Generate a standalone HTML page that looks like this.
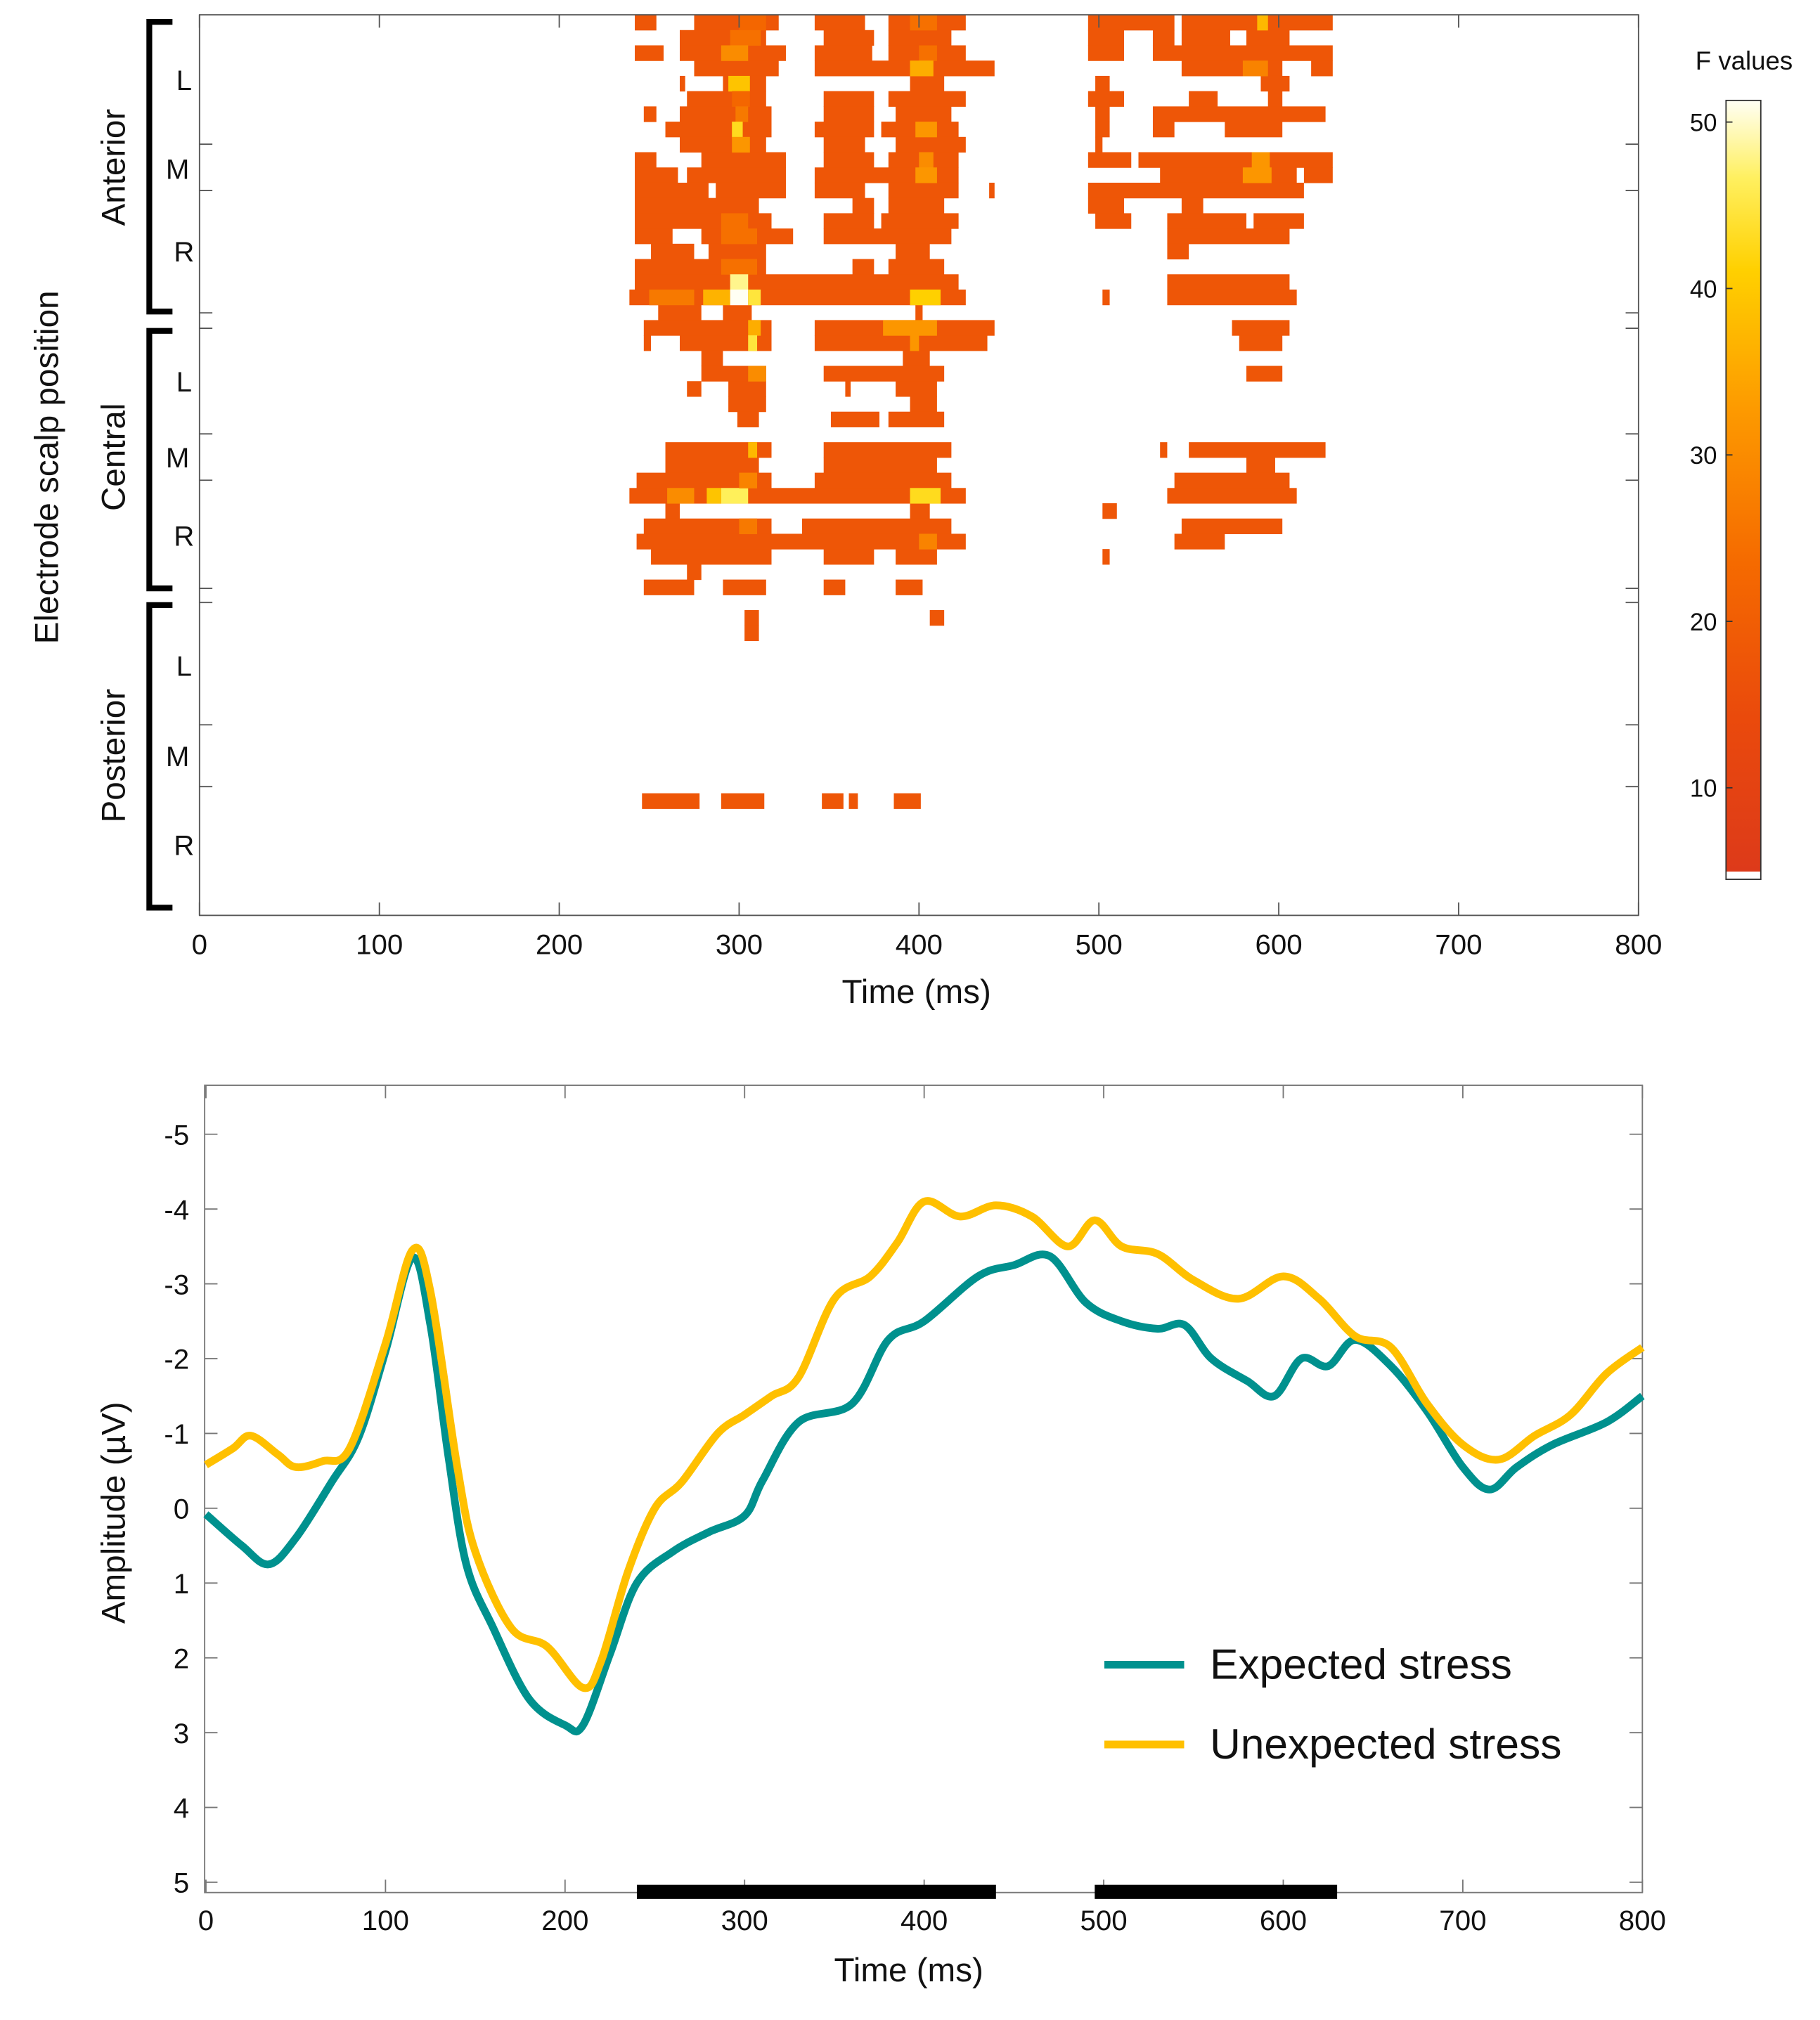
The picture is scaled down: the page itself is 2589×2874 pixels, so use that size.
<!DOCTYPE html>
<html><head><meta charset="utf-8"><style>
html,body{margin:0;padding:0;background:#fff;}
svg{display:block;font-family:"Liberation Sans","DejaVu Sans",sans-serif;}
</style></head><body>
<svg id="fig" width="2589" height="2874" viewBox="0 0 1414 1569" preserveAspectRatio="none" xmlns="http://www.w3.org/2000/svg">
<defs>
<linearGradient id="cbgrad" x1="0" y1="1" x2="0" y2="0">
<stop offset="0" stop-color="#dd3a1a"/><stop offset="0.2" stop-color="#ea4a0c"/><stop offset="0.4" stop-color="#f56a00"/><stop offset="0.6" stop-color="#fd9a00"/><stop offset="0.78" stop-color="#ffd000"/><stop offset="0.9" stop-color="#fff060"/><stop offset="1" stop-color="#fffff4"/>
</linearGradient>
</defs>
<g id="topPanel"></g>
<g id="bottomPanel"></g>
</svg>
<script>
// ---------- heatmap data ----------
const heatXTicks = [0,100,200,300,400,500,600,700,800];
const cbTicks = [10,20,30,40,50];
// segments: [row, startMs, endMs]
const heatSegments = [
[0,242,254],[0,275,322],[0,342,370],[0,383,426],[0,494,542],[0,546,630],
[1,267,315],[1,347,375],[1,383,418],[1,494,514],[1,530,542],[1,546,573],[1,582,606],
[2,242,258],[2,267,326],[2,342,374],[2,383,426],[2,494,514],[2,530,630],
[3,275,322],[3,342,442],[3,546,602],[3,618,630],
[4,267,270],[4,291,315],[4,395,414],[4,498,506],[4,590,606],
[5,271,315],[5,347,375],[5,383,426],[5,494,514],[5,550,566],[5,594,602],
[6,247,254],[6,267,318],[6,347,375],[6,387,418],[6,498,506],[6,530,626],
[7,259,318],[7,342,375],[7,379,422],[7,498,506],[7,530,542],[7,570,602],
[8,267,315],[8,347,370],[8,387,426],[8,498,502],
[9,242,254],[9,279,326],[9,347,375],[9,383,422],[9,494,518],[9,522,630],
[10,242,266],[10,271,326],[10,342,422],[10,534,610],[10,614,630],
[11,242,283],[11,287,326],[11,342,370],[11,383,422],[11,439,442],[11,494,614],
[12,242,311],[12,363,375],[12,383,414],[12,494,514],[12,546,558],
[13,242,318],[13,347,375],[13,379,422],[13,498,518],[13,538,582],[13,586,614],
[14,242,263],[14,279,330],[14,347,418],[14,538,606],
[15,251,275],[15,283,315],[15,387,406],[15,538,550],
[16,242,315],[16,363,375],[16,383,414],
[17,242,422],[17,538,606],
[18,239,426],[18,502,506],[18,538,610],
[19,255,279],[19,291,307],[19,398,402],
[20,247,318],[20,342,442],[20,574,606],
[21,247,251],[21,267,318],[21,342,438],[21,578,602],
[22,279,291],[22,391,406],
[23,279,315],[23,347,414],[23,582,602],
[24,271,279],[24,294,315],[24,359,362],[24,387,410],
[25,294,315],[25,395,410],
[26,299,311],[26,351,378],[26,383,414],
[28,259,318],[28,347,418],[28,534,538],[28,550,626],
[29,259,311],[29,347,410],[29,582,598],
[30,243,318],[30,342,418],[30,542,606],
[31,239,426],[31,538,610],
[32,259,267],[32,395,406],[32,502,510],
[33,247,318],[33,335,418],[33,546,602],
[34,243,426],[34,542,570],
[35,251,318],[35,347,375],[35,387,410],[35,502,506],
[36,271,279],
[37,247,275],[37,291,315],[37,347,359],[37,387,402],
[39,303,311],[39,406,414],[40,303,311],
[51,246,278],[51,290,314],[51,346,358],[51,361,366],[51,386,401]
];
const heatBaseValue = 16;
// brighter patches: [row, startMs, endMs, F]
const heatPeaks = [
[0,300,315,20],[0,395,410,22],[0,588,594,36],[1,295,312,22],[2,290,305,28],[2,400,410,22],
[3,395,408,34],[3,580,594,26],[4,294,306,38],[5,296,306,20],[6,298,305,24],[7,296,302,42],[7,398,410,30],
[8,296,306,30],[9,400,408,28],[9,585,595,30],[10,398,410,30],[10,580,596,30],[13,290,305,22],[14,290,310,22],
[16,290,310,22],[17,295,305,48],[18,280,295,35],[18,295,305,52],[18,305,312,44],[18,395,412,40],[18,250,275,24],
[20,305,312,34],[20,380,410,30],[21,305,310,44],[21,395,400,30],[23,305,315,28],[28,305,310,36],
[31,290,305,46],[31,282,290,38],[31,395,412,42],[31,260,275,28],[30,300,310,26],[33,300,310,24],[34,400,410,26]
];
// ---------- ERP data ----------
const erpXTicks = [0,100,200,300,400,500,600,700,800];
const erpYTicks = [-5,-4,-3,-2,-1,0,1,2,3,4,5];
const expTimes = [0,20,35,50,70,85,100,115,125,135,145,160,180,200,210,225,240,260,280,300,310,330,360,380,400,430,450,470,490,510,530,545,560,580,595,610,625,640,660,680,700,715,730,750,780,800];
const expValues = [0.08,0.5,0.75,0.4,-0.35,-0.95,-2.1,-3.35,-2.45,-0.7,0.75,1.6,2.55,2.9,2.9,1.95,1.0,0.58,0.32,0.1,-0.37,-1.15,-1.4,-2.25,-2.5,-3.1,-3.25,-3.37,-2.75,-2.5,-2.4,-2.45,-2.0,-1.7,-1.5,-2.0,-1.9,-2.25,-1.9,-1.3,-0.55,-0.25,-0.55,-0.85,-1.15,-1.5];
const unexpTimes = [0,15,25,40,50,65,80,100,115,125,140,150,170,190,210,220,235,250,265,285,300,315,330,350,370,385,400,420,440,460,480,495,510,530,550,575,600,620,640,660,680,700,720,740,760,780,800];
const unexpValues = [-0.58,-0.8,-0.97,-0.72,-0.55,-0.63,-0.8,-2.2,-3.45,-2.9,-0.55,0.58,1.6,1.85,2.4,2.05,0.85,0,-0.35,-1.0,-1.25,-1.5,-1.75,-2.8,-3.1,-3.55,-4.1,-3.9,-4.05,-3.9,-3.5,-3.85,-3.5,-3.4,-3.05,-2.8,-3.1,-2.8,-2.3,-2.15,-1.4,-0.85,-0.65,-0.97,-1.25,-1.8,-2.15];
const sigWindows = [[240,440],[495,630]];

const NS = "http://www.w3.org/2000/svg";
function mk(parent, tag, attrs, text){
  const e = document.createElementNS(NS, tag);
  for (const k in attrs) e.setAttribute(k, attrs[k]);
  if (text !== undefined) e.textContent = text;
  parent.appendChild(e); return e;
}
// ---------- top panel ----------
const topG = document.getElementById('topPanel');
const H = {x0:155, x1:1273, y0:11.5, y1:711, rows:59};
const hx = ms => H.x0 + (ms/800)*(H.x1-H.x0);
const rowH = (H.y1-H.y0)/H.rows;
const ry = r => H.y0 + r*rowH;
const stops = [[4.5,[221,58,26]],[12,[232,70,14]],[20,[244,102,0]],[30,[252,150,0]],[40,[255,208,0]],[46,[255,240,90]],[52,[255,255,244]]];
function cmap(v){
  if (v<=stops[0][0]) return 'rgb('+stops[0][1]+')';
  for (let i=1;i<stops.length;i++){
    if (v<=stops[i][0]){ const a=stops[i-1], b=stops[i]; const t=(v-a[0])/(b[0]-a[0]);
      const c=a[1].map((x,j)=>Math.round(x+(b[1][j]-x)*t)); return 'rgb('+c.join(',')+')'; }
  }
  return 'rgb(255,255,244)';
}
const cells = mk(topG,'g',{});


heatSegments.forEach(s=>{
  const r = mk(cells,'rect',{x:hx(s[1]),y:ry(s[0]),width:hx(s[2])-hx(s[1]),height:rowH+0.3,fill:cmap(heatBaseValue)});
  
  
});
heatPeaks.forEach(s=>{
  const r = mk(cells,'rect',{x:hx(s[1]),y:ry(s[0]),width:hx(s[2])-hx(s[1]),height:rowH+0.3,fill:cmap(s[3])});
  
  
});
const topFrame = mk(topG,'rect',{x:H.x0,y:H.y0,width:H.x1-H.x0,height:H.y1-H.y0,fill:'none',stroke:'#555','stroke-width':1});


[112,148,243,255,337,373,457,468,563,611].forEach(y=>{
  mk(topG,'line',{x1:H.x0,x2:H.x0+10,y1:y,y2:y,stroke:'#555','stroke-width':1});
  mk(topG,'line',{x1:H.x1,x2:H.x1-10,y1:y,y2:y,stroke:'#555','stroke-width':1});
});
heatXTicks.forEach(t=>{
  mk(topG,'line',{x1:hx(t),x2:hx(t),y1:H.y1,y2:H.y1-10,stroke:'#555','stroke-width':1});
  mk(topG,'line',{x1:hx(t),x2:hx(t),y1:H.y0,y2:H.y0+10,stroke:'#555','stroke-width':1});
  const tl = mk(topG,'text',{x:hx(t),y:741,'font-size':22,'text-anchor':'middle',fill:'#111'},String(t));
  
  
});
const hxt = mk(topG,'text',{x:712,y:779,'font-size':26,'text-anchor':'middle',fill:'#111'},'Time (ms)');


// brackets
[[17,242,130,'Anterior',[62,131,195]],[257,457,355,'Central',[296,355,416]],[470,705,587,'Posterior',[517,587,656]]].forEach(g=>{
  const b = mk(topG,'path',{d:`M134 ${g[0]} H116 V${g[1]} H134`,fill:'none',stroke:'#000','stroke-width':4.5});
  
  
  const gl = mk(topG,'text',{x:0,y:0,'font-size':26,'text-anchor':'middle',fill:'#111',transform:`translate(97 ${g[2]}) rotate(-90)`},g[3]);
  
  
  ['L','M','R'].forEach((s,i)=>{
    const sl = mk(topG,'text',{x:s==='M'?138:143,y:g[4][i]+8,'font-size':22,'text-anchor':'middle',fill:'#111'},s);
    
    
  });
});
const hyt = mk(topG,'text',{x:0,y:0,'font-size':26,'text-anchor':'middle',fill:'#111',transform:'translate(45 363) rotate(-90)'},'Electrode scalp position');


// colorbar
const CB = {x:1341,w:27,y0:78,y1:683,vmin:4.5,vmax:51.3};
const cy = v => CB.y1 - (v-CB.vmin)/(CB.vmax-CB.vmin)*(CB.y1-CB.y0);
const cbr = mk(topG,'rect',{x:CB.x,y:CB.y0,width:CB.w,height:CB.y1-CB.y0-6,fill:'url(#cbgrad)'});


mk(topG,'rect',{x:CB.x,y:CB.y0,width:CB.w,height:CB.y1-CB.y0,fill:'none',stroke:'#333','stroke-width':1});
cbTicks.forEach(v=>{
  mk(topG,'line',{x1:CB.x,x2:CB.x+5,y1:cy(v),y2:cy(v),stroke:'#333','stroke-width':1});
  const cl = mk(topG,'text',{x:1334,y:cy(v)+7,'font-size':19,'text-anchor':'end',fill:'#111'},String(v));
  
  
});
const cbt = mk(topG,'text',{x:1355,y:54,'font-size':20,'text-anchor':'middle',fill:'#111'},'F values');



// ---------- bottom panel ----------
const botG = document.getElementById('bottomPanel');
const E = {x0:159, x1:1276, y0:843, y1:1470};
const ex = ms => 160 + (ms/800)*(1276-160);
const ey = v => 1171.5 + v*58.1;
const bframe = mk(botG,'rect',{x:E.x0,y:E.y0,width:E.x1-E.x0,height:E.y1-E.y0,fill:'none',stroke:'#777','stroke-width':1});


erpYTicks.forEach(v=>{
  mk(botG,'line',{x1:E.x0,x2:E.x0+10,y1:ey(v),y2:ey(v),stroke:'#777','stroke-width':1});
  mk(botG,'line',{x1:E.x1,x2:E.x1-10,y1:ey(v),y2:ey(v),stroke:'#777','stroke-width':1});
  const yl = mk(botG,'text',{x:147,y:ey(v)+8,'font-size':22,'text-anchor':'end',fill:'#111'},String(v));
  
  
});
erpXTicks.forEach(t=>{
  mk(botG,'line',{x1:ex(t),x2:ex(t),y1:E.y1,y2:E.y1-10,stroke:'#777','stroke-width':1});
  mk(botG,'line',{x1:ex(t),x2:ex(t),y1:E.y0,y2:E.y0+10,stroke:'#777','stroke-width':1});
  const xl = mk(botG,'text',{x:ex(t),y:1499,'font-size':22,'text-anchor':'middle',fill:'#111'},String(t));
  
  
});
sigWindows.forEach(w=>{
  const r = mk(botG,'rect',{x:ex(w[0]),y:1464,width:ex(w[1])-ex(w[0]),height:11,fill:'#000'});
  
  
});
function smoothPath(ts, vs){
  const p = ts.map((t,i)=>[ex(t),ey(vs[i])]);
  let d = `M${p[0][0]} ${p[0][1]}`;
  for (let i=0;i<p.length-1;i++){
    const p0=p[Math.max(0,i-1)], p1=p[i], p2=p[i+1], p3=p[Math.min(p.length-1,i+2)];
    const c1=[p1[0]+(p2[0]-p0[0])/6, p1[1]+(p2[1]-p0[1])/6];
    const c2=[p2[0]-(p3[0]-p1[0])/6, p2[1]-(p3[1]-p1[1])/6];
    d += ` C${c1[0]} ${c1[1]} ${c2[0]} ${c2[1]} ${p2[0]} ${p2[1]}`;
  }
  return d;
}
const expLine = mk(botG,'path',{d:smoothPath(expTimes,expValues),fill:'none',stroke:'#00918e','stroke-width':6,'stroke-linejoin':'round'});


const unLine = mk(botG,'path',{d:smoothPath(unexpTimes,unexpValues),fill:'none',stroke:'#ffc000','stroke-width':6,'stroke-linejoin':'round'});


const bxt = mk(botG,'text',{x:706,y:1539,'font-size':26,'text-anchor':'middle',fill:'#111'},'Time (ms)');


const byt = mk(botG,'text',{x:0,y:0,'font-size':26,'text-anchor':'middle',fill:'#111',transform:'translate(97 1175) rotate(-90)'},'Amplitude (µV)');


// legend
const leg = mk(botG,'g',{});


[['#00918e','Expected stress',1293],['#ffc000','Unexpected stress',1355]].forEach(l=>{
  const e = mk(leg,'g',{});
  
  
  mk(e,'line',{x1:858,x2:920,y1:l[2],y2:l[2],stroke:l[0],'stroke-width':6});
  mk(e,'text',{x:940,y:l[2]+11,'font-size':33,fill:'#111'},l[1]);
});
</script>
</body></html>
